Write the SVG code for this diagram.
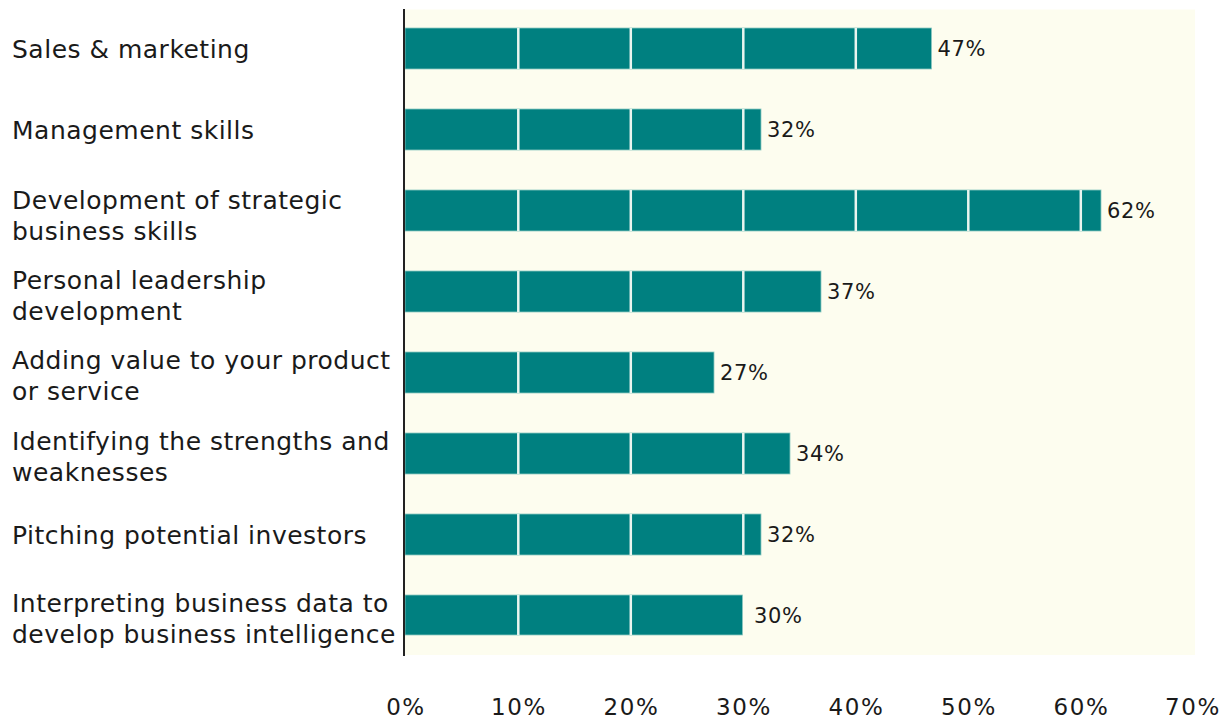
<svg xmlns="http://www.w3.org/2000/svg" width="1223" height="721" viewBox="0 0 1223 721">
<style>
.cat{font-family:"DejaVu Sans",Verdana,sans-serif;font-size:25px;fill:#1a1a1a;letter-spacing:0.5px}
.val{font-family:"DejaVu Sans",Verdana,sans-serif;font-size:21px;fill:#1a1a1a;letter-spacing:0.6px}
.tick{font-family:"DejaVu Sans",Verdana,sans-serif;font-size:23px;fill:#1a1a1a;letter-spacing:1.6px;text-anchor:middle}
.bar{fill:#008080;stroke:#8cc8c0;stroke-width:0.8}
.div{stroke:#eaf5ef;stroke-width:2.5}
</style>
<rect x="0" y="0" width="1223" height="721" fill="#ffffff"/>
<rect x="405" y="9.5" width="790" height="645.5" fill="#fdfdef"/>
<g id="bar-sales">
<rect class="bar" x="405" y="28" width="526.5" height="41"/>
<path class="div" d="M518.3 28V69M630.8 28V69M743.3 28V69M855.8 28V69"/>
<text class="val" x="937.5" y="56">47%</text>
<text class="cat" x="12" y="58">Sales &amp; marketing</text>
</g>
<g id="bar-management">
<rect class="bar" x="405" y="109" width="356" height="41"/>
<path class="div" d="M518.3 109V150M630.8 109V150M743.3 109V150"/>
<text class="val" x="767" y="137">32%</text>
<text class="cat" x="12" y="139">Management skills</text>
</g>
<g id="bar-development">
<rect class="bar" x="405" y="190" width="696" height="41"/>
<path class="div" d="M518.3 190V231M630.8 190V231M743.3 190V231M855.8 190V231M968.3 190V231M1080.8 190V231"/>
<text class="val" x="1107" y="218">62%</text>
<text class="cat" x="12" y="209">Development of strategic</text>
<text class="cat" x="12" y="240">business skills</text>
</g>
<g id="bar-personal">
<rect class="bar" x="405" y="271" width="416" height="41"/>
<path class="div" d="M518.3 271V312M630.8 271V312M743.3 271V312"/>
<text class="val" x="827" y="299">37%</text>
<text class="cat" x="12" y="289">Personal leadership</text>
<text class="cat" x="12" y="320">development</text>
</g>
<g id="bar-adding">
<rect class="bar" x="405" y="352" width="309" height="41"/>
<path class="div" d="M518.3 352V393M630.8 352V393"/>
<text class="val" x="720" y="380">27%</text>
<text class="cat" x="12" y="369">Adding value to your product</text>
<text class="cat" x="12" y="400">or service</text>
</g>
<g id="bar-identifying">
<rect class="bar" x="405" y="433" width="385" height="41"/>
<path class="div" d="M518.3 433V474M630.8 433V474M743.3 433V474"/>
<text class="val" x="796" y="461">34%</text>
<text class="cat" x="12" y="450">Identifying the strengths and</text>
<text class="cat" x="12" y="481">weaknesses</text>
</g>
<g id="bar-pitching">
<rect class="bar" x="405" y="514" width="356" height="41"/>
<path class="div" d="M518.3 514V555M630.8 514V555M743.3 514V555"/>
<text class="val" x="767" y="542">32%</text>
<text class="cat" x="12" y="544">Pitching potential investors</text>
</g>
<g id="bar-interpreting">
<rect class="bar" x="405" y="595" width="337.5" height="40"/>
<path class="div" d="M518.3 595V635M630.8 595V635"/>
<text class="val" x="754" y="623">30%</text>
<text class="cat" x="12" y="612">Interpreting business data to</text>
<text class="cat" x="12" y="643">develop business intelligence</text>
</g>
<g id="axis">
<line x1="404" y1="9" x2="404" y2="656" stroke="#222" stroke-width="2"/>
<text class="tick" x="406" y="715">0%</text>
<text class="tick" x="519" y="715">10%</text>
<text class="tick" x="631.5" y="715">20%</text>
<text class="tick" x="744" y="715">30%</text>
<text class="tick" x="856.5" y="715">40%</text>
<text class="tick" x="969" y="715">50%</text>
<text class="tick" x="1081.5" y="715">60%</text>
<text class="tick" x="1193" y="715">70%</text>
</g>
</svg>
